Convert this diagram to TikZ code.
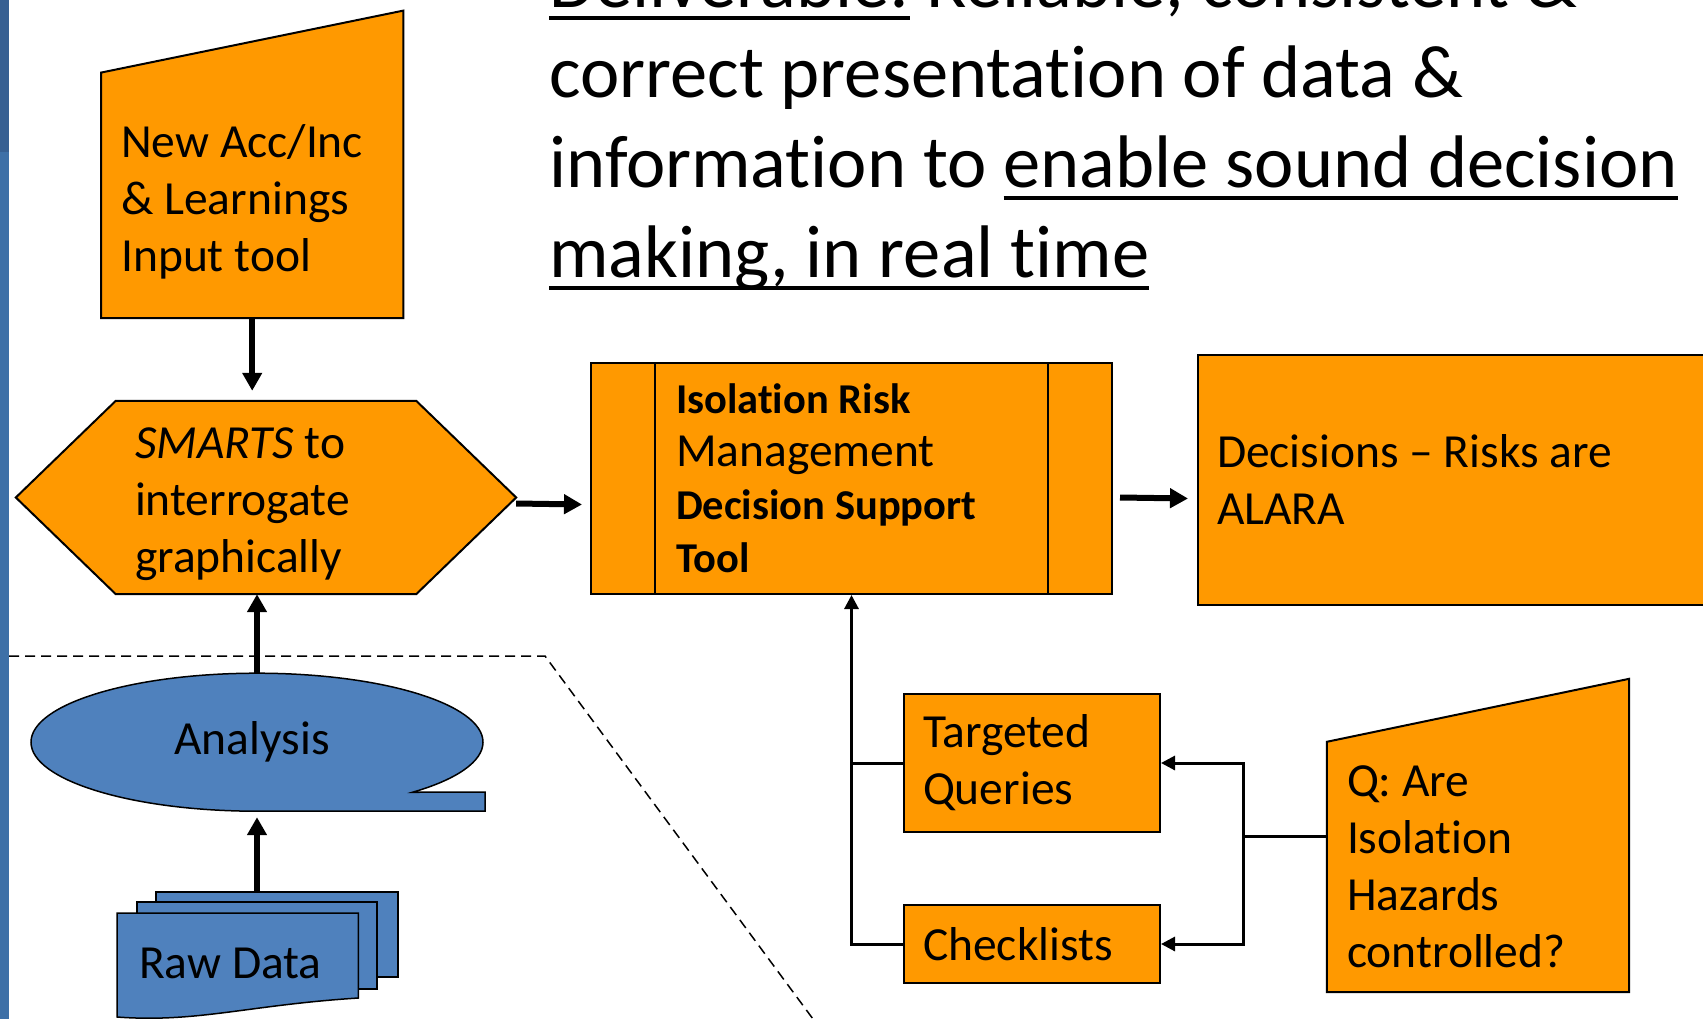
\documentclass[tikz,border=0pt]{standalone}
\usepackage{fontspec}
\setmainfont{Carlito}[Ligatures={TeX,NoCommon}]
\usetikzlibrary{arrows.meta,calc,backgrounds}

\definecolor{boxorange}{HTML}{FF9900}
\definecolor{storeblue}{HTML}{4F81BD}
\definecolor{barblue}{HTML}{3E70A7}
\definecolor{bartop}{HTML}{376092}

\newcommand{\ulined}[1]{\setbox0=\hbox{#1}\rlap{\rule[-13pt]{\wd0}{4pt}}\box0\relax}
\newcommand{\boldline}[1]{{\bfseries\fontsize{42.5}{53}\selectfont #1}}
\frenchspacing

\begin{document}
\begin{tikzpicture}[
    x=1pt, y=-1pt,
    box/.style={rectangle, draw, line width=2pt, fill=boxorange, inner ysep=0pt, align=flush left, font=\fontsize{47.5}{57}\selectfont},
    plain/.style={rectangle, inner ysep=0pt, align=flush left, font=\fontsize{47.5}{57}\selectfont},
    orangeshape/.style={draw, line width=2pt, fill=boxorange},
    blueshape/.style={draw, line width=1.5pt, fill=storeblue},
    arrow/.style={-{Triangle[length=18pt,width=19pt]}, line width=6pt},
    link/.style={-{Triangle[length=14pt,width=14pt]}, line width=3pt},
    wire/.style={line width=3pt},
    divider/.style={line width=1.5pt, dash pattern=on 10pt off 6pt},
]
    \useasboundingbox (0,0) rectangle (1703,1019);
    \clip (0,0) rectangle (1703,1019);

    % Slide bar
    \fill[barblue] (0,0) rectangle (9,1019);
    \fill[bartop] (0,0) rectangle (9,152);

    % Deliverable
    \node[anchor=base west, inner sep=0pt, align=left, font=\fontsize{74.5}{90}\selectfont] (deliverable) at (549,277)
        {\ulined{Deliverable:} Reliable, consistent \&\\correct presentation of data \&\\information to \ulined{enable sound decision}\\\ulined{making, in real time}};

    % Input & interrogation
    \node[plain, inner xsep=20pt, text width=262pt, minimum height=231pt, anchor=south west] (newacc) at (101,318) {New Acc/Inc\\\& Learnings\\Input tool};
    \node[plain, inner xsep=19pt, text width=262pt, minimum height=179pt] (smarts) at (266,504.5) {\textit{SMARTS} to\\interrogate\\graphically};
    \node[plain, inner sep=0pt, minimum width=452pt, minimum height=138pt] (analysis) at (257,742) {\kern-10pt Analysis};
    \node[plain, inner xsep=22pt, text width=197pt, minimum height=100pt, anchor=north west] (rawdata) at (117,913) {Raw Data};

    % Decision support
    \node[box, inner xsep=85pt, text width=351pt, minimum height=231pt, font=\fontsize{47.5}{53}\selectfont] (irm) at (851.5,478.5)
        {\boldline{Isolation Risk}\\Management\\\boldline{Decision Support}\\\boldline{Tool}};
    \node[box, inner xsep=19pt, text width=504pt, minimum height=250pt] (decide) at (1469,480) {Decisions \textendash{} Risks are\\ALARA};
    \draw[line width=1.5pt] ($(irm.north west)+(65,0)$) -- ($(irm.south west)+(65,0)$);
    \draw[line width=1.5pt] ($(irm.north east)+(-65,0)$) -- ($(irm.south east)+(-65,0)$);

    % Queries
    \node[box, inner xsep=19pt, text width=218pt, minimum height=138pt] (targeted) at (1032,763) {Targeted\\Queries};
    \node[box, inner xsep=19pt, text width=218pt, minimum height=78pt] (checklists) at (1032,944) {Checklists};
    \node[plain, inner xsep=20pt, text width=262pt, minimum height=250pt] (question) at (1478,867) {Q: Are\\Isolation\\Hazards\\controlled?};

    % Outlines behind the text
    \begin{scope}[on background layer]
        \filldraw[orangeshape] (newacc.south west) -- ($(newacc.north west)+(0,-14)$) -- ($(newacc.north east)+(0,-76)$) -- (newacc.south east) -- cycle;
        \filldraw[orangeshape] ($(smarts.north west)+(0,-14)$) -- ($(smarts.north east)+(0,-14)$) -- ($(smarts.east)+(100,-7)$)
            -- (smarts.south east) -- (smarts.south west) -- ($(smarts.west)+(-100,-7)$) -- cycle;
        \filldraw[blueshape] (analysis.south) arc[start angle=-90, end angle=-406.5, x radius=226pt, y radius=69pt]
            -- ($(analysis.south east)+(2,-19)$) -- ($(analysis.south east)+(2,0)$) -- cycle;
        \filldraw[blueshape] ($(rawdata.north west)+(39,-21)$) rectangle ($(rawdata.north west)+(281,64)$);
        \filldraw[blueshape] ($(rawdata.north west)+(20,-11)$) rectangle ($(rawdata.north west)+(260,76)$);
        \filldraw[blueshape] (rawdata.north west) -- (rawdata.north east) -- ($(rawdata.north east)+(0,85)$)
            .. controls ($(rawdata.north east)+(-110,92)$) and ($(rawdata.north west)+(80,110)$) .. ($(rawdata.north west)+(0,104)$) -- cycle;
        \filldraw[orangeshape] (question.south west) -- (question.north west) -- ($(question.north east)+(0,-63)$) -- (question.south east) -- cycle;
    \end{scope}

    % Divider
    \draw[divider] (9,656) -- (545,656) -- (813,1019);

    % Arrows
    \draw[arrow] (newacc.south) -- ($(newacc.south |- smarts.north)+(0,-24)$);
    \draw[arrow] (analysis.north) -- (analysis.north |- smarts.south);
    \draw[arrow] ($(rawdata.north -| analysis.south)+(0,-21)$) -- ($(analysis.south)+(0,6)$);
    \draw[arrow] ($(smarts.east)+(100,-1)$) -- ($(smarts.east -| irm.west)+(-8,0)$);
    \draw[arrow] ($(irm.east)+(7,19)$) -- ($(irm.east -| decide.west)+(-9,20)$);

    \coordinate (fork) at ($(question.west)+(-83,-31)$);
    \draw[link] (question.west |- fork) -- (fork) |- (targeted.east);
    \draw[link] (fork) |- (checklists.east);
    \draw[link] (checklists.west) -| (irm.south);
    \draw[wire] (targeted.west) -- (targeted.west -| irm.south);
\end{tikzpicture}
\end{document}
